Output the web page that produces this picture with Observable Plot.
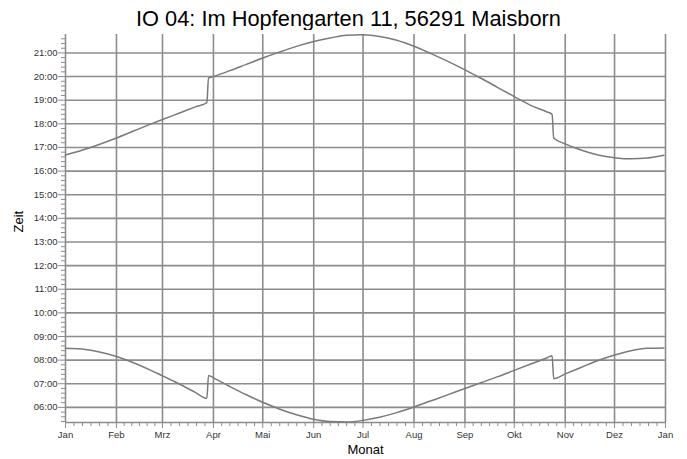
<!DOCTYPE html>
<html><head><meta charset="utf-8">
<script src="https://cdn.jsdelivr.net/npm/d3@7"></script>
<script src="https://cdn.jsdelivr.net/npm/@observablehq/plot@0.6"></script>
<style>
html,body{margin:0;padding:0;background:#fff;}
body{position:relative;width:687px;height:459px;overflow:hidden;font-family:"Liberation Sans",Arial,sans-serif;}
#title{position:absolute;left:5px;top:7.5px;width:687px;text-align:center;font-size:21.8px;line-height:1;color:#000;white-space:nowrap;}
#chart{position:absolute;left:0;top:30px;}
</style></head><body>
<div id="title">IO 04: Im Hopfengarten 11, 56291 Maisborn</div>
<div id="chart"></div>
<script>
const dates = ["2009-01-01","2009-01-11","2009-01-21","2009-02-01","2009-02-11","2009-02-21","2009-03-01","2009-03-11","2009-03-21","2009-03-28","2009-03-29","2009-04-01","2009-04-11","2009-04-21","2009-05-01","2009-05-11","2009-05-21","2009-06-01","2009-06-11","2009-06-21","2009-07-01","2009-07-11","2009-07-21","2009-08-01","2009-08-11","2009-08-21","2009-09-01","2009-09-11","2009-09-21","2009-10-01","2009-10-11","2009-10-21","2009-10-24","2009-10-25","2009-11-01","2009-11-11","2009-11-21","2009-12-01","2009-12-11","2009-12-21","2009-12-31"];
const sunrise = ["08:30","08:28","08:21","08:09","07:54","07:36","07:20","07:00","06:38","06:23","07:21","07:15","06:53","06:32","06:13","05:56","05:42","05:30","05:24","05:23","05:27","05:35","05:46","06:01","06:16","06:31","06:48","07:03","07:18","07:34","07:50","08:06","08:11","07:13","07:25","07:42","07:59","08:13","08:24","08:30","08:31"];
const sunset = ["16:41","16:53","17:07","17:24","17:41","17:58","18:11","18:27","18:43","18:54","19:56","20:00","20:15","20:31","20:47","21:02","21:16","21:29","21:38","21:45","21:46","21:42","21:33","21:17","20:59","20:40","20:17","19:55","19:32","19:09","18:47","18:30","18:24","17:24","17:09","16:53","16:41","16:34","16:31","16:33","16:40"];
const monthLabels = ["Jan","Feb","Mrz","Apr","Mai","Jun","Jul","Aug","Sep","Okt","Nov","Dez"];
const hourTicks = [6,7,8,9,10,11,12,13,14,15,16,17,18,19,20,21];

const yMin = 5.36, yMax = 21.78;
const parse = d3.utcParse("%Y-%m-%d");
const toH = s => { const [h, m] = s.split(":").map(Number); return h + m / 60; };
const riseData = dates.map((d, i) => ({date: parse(d), t: toH(sunrise[i])}));
const setData = dates.map((d, i) => ({date: parse(d), t: toH(sunset[i])}));

const x0 = new Date(Date.UTC(2009, 0, 1)), x1 = new Date(Date.UTC(2010, 0, 1));
const monthTicks = d3.utcMonth.range(x0, d3.utcDay.offset(x1, 1));
const minorX = [];
for (let i = 0; i < monthTicks.length - 1; i++) {
  const a = +monthTicks[i], b = +monthTicks[i + 1];
  for (let k = 1; k < 6; k++) minorX.push(new Date(a + (b - a) * k / 6));
}
const minorY = [];
for (let m = Math.ceil(yMin * 5); m <= Math.floor(yMax * 5); m++) if (m % 5 !== 0) minorY.push(m / 5);

const grid = "#8c8c8c";
const lineColor = "#7a7a7a";

const chart = Plot.plot({
  width: 687, height: 429,
  marginTop: 4, marginBottom: 37, marginLeft: 65, marginRight: 22,
  style: {fontFamily: "'Liberation Sans', Arial, sans-serif", fontSize: "9.5px", color: "#333", background: "#fff"},
  x: {type: "utc", domain: [x0, x1]},
  y: {domain: [yMin, yMax]},
  marks: [
    Plot.ruleY(hourTicks, {stroke: grid, strokeWidth: 1.6}),
    Plot.ruleX(monthTicks, {stroke: grid, strokeWidth: 1.6}),
    Plot.ruleY([yMin], {stroke: grid, strokeWidth: 1.6}),
    Plot.axisY(minorY, {tickSize: 4, tickFormat: () => "", stroke: grid, label: null}),
    Plot.axisY(hourTicks, {tickSize: 7, tickPadding: 1, stroke: grid, tickFormat: h => String(h).padStart(2, "0") + ":00", label: null}),
    Plot.axisX(minorX, {tickSize: 4, tickFormat: () => "", stroke: grid, label: null}),
    Plot.axisX(monthTicks, {tickSize: 6, tickPadding: 3, stroke: grid, tickFormat: d => monthLabels[d.getUTCMonth()], label: null}),
    Plot.line(riseData, {x: "date", y: "t", curve: "monotone-x", stroke: lineColor, strokeWidth: 1.5}),
    Plot.line(setData, {x: "date", y: "t", curve: "monotone-x", stroke: lineColor, strokeWidth: 1.5}),
    Plot.text(["Monat"], {frameAnchor: "bottom", dy: 31, fontSize: 13, fill: "#000", text: d => d}),
    Plot.text(["Zeit"], {frameAnchor: "left", dx: -47, dy: 4, rotate: -90, fontSize: 13, fill: "#000", text: d => d})
  ]
});
document.getElementById("chart").appendChild(chart);
</script>
</body></html>
